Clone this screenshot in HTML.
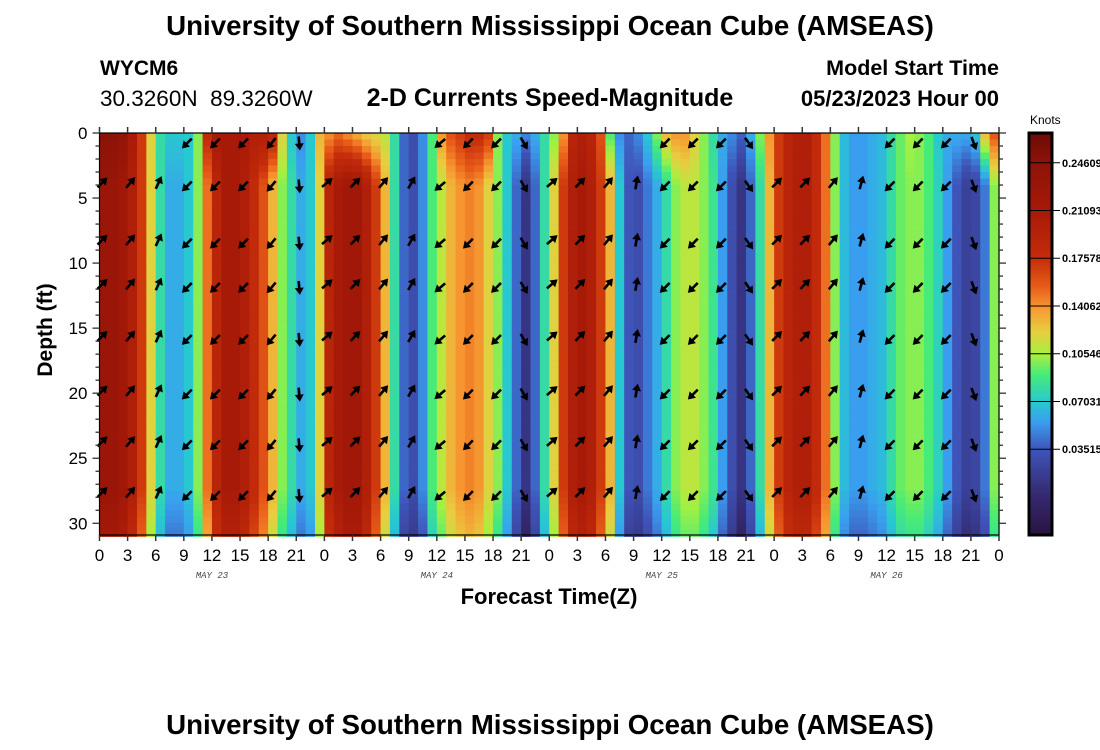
<!DOCTYPE html>
<html><head><meta charset="utf-8">
<style>
body{margin:0;background:#fff;width:1100px;height:750px;overflow:hidden;font-family:"Liberation Sans",Arial,sans-serif}
svg{position:absolute;left:0;top:0}
</style></head>
<body>
<svg id="chart" width="1100" height="750" xmlns="http://www.w3.org/2000/svg">
<text x="550" y="35" text-anchor="middle" font-size="27.7" font-weight="bold">University of Southern Mississippi Ocean Cube (AMSEAS)</text>
<text x="100" y="75" font-size="21" font-weight="bold">WYCM6</text>
<text x="100" y="106" font-size="22.5">30.3260N&#160; 89.3260W</text>
<text x="550" y="106" text-anchor="middle" font-size="25" font-weight="bold">2-D Currents Speed-Magnitude</text>
<text x="999" y="75" text-anchor="end" font-size="21.5" font-weight="bold">Model Start Time</text>
<text x="999" y="106" text-anchor="end" font-size="22" font-weight="bold">05/23/2023 Hour 00</text>
<text transform="translate(52,330) rotate(-90)" text-anchor="middle" font-size="21" font-weight="bold">Depth (ft)</text>
<text x="549" y="604" text-anchor="middle" font-size="22" font-weight="bold">Forecast Time(Z)</text>
<text x="1030" y="124" font-size="12">Knots</text>
<text x="550" y="734" text-anchor="middle" font-size="27.7" font-weight="bold">University of Southern Mississippi Ocean Cube (AMSEAS)</text>
<g id="cells"></g><g id="arrows"></g><g id="axes"></g><g id="cbar"></g>
</svg>
<script>
// hourly speed (knots) at mid depth
const bulk=[0.23,0.23,0.22,0.20,0.17,0.12,0.08,0.06,0.06,0.07,0.10,0.15,0.19,0.21,0.21,0.20,0.18,0.16,0.13,0.10,0.08,0.06,0.07,0.12,
0.19,0.21,0.22,0.22,0.20,0.17,0.13,0.08,0.04,0.03,0.05,0.09,0.11,0.13,0.14,0.145,0.14,0.12,0.10,0.07,0.04,0.01,0.04,0.08,
0.12,0.17,0.20,0.21,0.20,0.17,0.13,0.07,0.035,0.03,0.045,0.06,0.08,0.10,0.11,0.11,0.10,0.085,0.055,0.03,0.01,0.04,0.08,0.13,
0.17,0.19,0.20,0.20,0.18,0.15,0.10,0.065,0.055,0.055,0.06,0.065,0.08,0.095,0.10,0.10,0.09,0.075,0.055,0.035,0.02,0.025,0.045,0.10];
// hourly speed at surface
const surface=[0.25,0.25,0.24,0.21,0.17,0.12,0.08,0.07,0.07,0.07,0.10,0.18,0.21,0.21,0.21,0.21,0.20,0.20,0.19,0.12,0.07,0.05,0.07,0.13,
0.14,0.15,0.14,0.13,0.12,0.115,0.11,0.08,0.04,0.03,0.05,0.09,0.14,0.16,0.17,0.18,0.18,0.17,0.10,0.07,0.06,0.05,0.06,0.08,
0.10,0.14,0.19,0.20,0.19,0.16,0.09,0.05,0.04,0.05,0.07,0.10,0.13,0.14,0.14,0.12,0.10,0.08,0.06,0.05,0.04,0.06,0.10,0.14,
0.17,0.19,0.20,0.20,0.18,0.15,0.10,0.065,0.055,0.055,0.06,0.065,0.08,0.095,0.105,0.10,0.09,0.07,0.06,0.06,0.06,0.07,0.13,0.16];
// arrow directions every 3 hours (degrees, 0=east, counter-clockwise)
const arrowHours=[0,3,6,9,12,15,18,21,24,27,30,33,36,39,42,45,48,51,54,57,60,63,66,69,72,75,78,81,84,87,90,93];
const arrowDir=[45,50,65,225,225,225,230,275,40,45,50,60,220,225,225,300,40,45,50,80,225,225,225,305,45,45,50,75,225,225,225,290];
const arrowDepths=[0.5,3.8,8.2,11.6,15.6,19.8,23.7,27.6];
const yTicks=[0,5,10,15,20,25,30];
const xTickLabels=["0","3","6","9","12","15","18","21"];
const dayLabels=["MAY 23","MAY 24","MAY 25","MAY 26"];
const cbTicks=[0.03515,0.07031,0.10546,0.14062,0.17578,0.21093,0.24609];
const cbMin=-0.028,cbMax=0.268;

const X0=99.5,X1=999,Y0=133,Y1=535,HMAX=96,DMAX=30.9;
const xs=h=>X0+(X1-X0)*h/HMAX;
const ys=d=>Y0+(Y1-Y0)*d/DMAX;
const NS="http://www.w3.org/2000/svg";
function mk(tag,attrs,parent){const e=document.createElementNS(NS,tag);for(const k in attrs)e.setAttribute(k,attrs[k]);parent.appendChild(e);return e;}
const stops=[[-0.028,[42,20,64]],[0.0,[52,40,110]],[0.035,[62,84,184]],[0.055,[58,158,240]],[0.07,[40,200,208]],[0.09,[70,235,120]],[0.105,[168,240,64]],[0.122,[232,205,64]],[0.14,[246,150,48]],[0.155,[232,92,24]],[0.176,[196,44,10]],[0.21,[168,26,8]],[0.246,[142,19,8]],[0.268,[110,11,6]]];
function color(v){v=Math.max(stops[0][0],Math.min(stops[stops.length-1][0],v));
 for(let i=1;i<stops.length;i++){if(v<=stops[i][0]){const a=stops[i-1],b=stops[i],t=(v-a[0])/(b[0]-a[0]);
 const c=a[1].map((x,j)=>Math.round(x+(b[1][j]-x)*t));return `rgb(${c})`;}}return "rgb(110,11,6)";}

const cells=document.getElementById('cells');
const dStep=0.5;
for(let h=0;h<bulk.length;h++){
 for(let d=0;d<DMAX;d+=dStep){
  const w=Math.max(0,1-(d+dStep/2)/4);
  let v=bulk[h]+(surface[h]-bulk[h])*w;
  if(d>27) v-= (d-27)*0.004;
  const r=mk('rect',{x:xs(h),y:ys(d),width:xs(h+1)-xs(h)+0.6,height:ys(d+dStep)-ys(d)+0.6,fill:color(v)},cells);
  
  
 }
}
const arrows=document.getElementById('arrows');
arrowHours.forEach((h,i)=>{
 const a=arrowDir[i]*Math.PI/180;
 const south=Math.sin(a)<0;
 arrowDepths.forEach((d,k)=>{
  if(k===0&&!south)return;
  const cx=xs(h)+3,cy=ys(d)+(south?4:0),L=7;
  const dx=Math.cos(a)*L,dy=-Math.sin(a)*L;
  const g=mk('g',{},arrows);
  
  
  mk('line',{x1:cx-dx,y1:cy-dy,x2:cx+dx*0.4,y2:cy+dy*0.4,stroke:'#000','stroke-width':2.6},g);
  const tx=cx+dx,ty=cy+dy,ux=Math.cos(a),uy=-Math.sin(a),px=-uy,py=ux;
  mk('polygon',{points:`${tx},${ty} ${tx-ux*7+px*4.5},${ty-uy*7+py*4.5} ${tx-ux*7-px*4.5},${ty-uy*7-py*4.5}`,fill:'#000'},g);
 });
});
const axes=document.getElementById('axes');
mk('rect',{x:X0,y:Y0,width:X1-X0,height:Y1-Y0,fill:'none',stroke:'#000','stroke-width':1.2},axes);
for(let d=0;d<=30;d++){
 const L=(d%5===0)?7:4;
 mk('line',{x1:X0-L,y1:ys(d),x2:X0,y2:ys(d),stroke:'#333','stroke-width':1.3},axes);
 mk('line',{x1:X1,y1:ys(d),x2:X1+L,y2:ys(d),stroke:'#333','stroke-width':1.3},axes);
}
yTicks.forEach(d=>{const t=mk('text',{x:X0-12,y:ys(d)+6,'text-anchor':'end','font-size':17},axes);t.textContent=d;
 
 });
for(let h=0;h<=96;h+=3){
 mk('line',{x1:xs(h),y1:Y1,x2:xs(h),y2:Y1+6,stroke:'#333','stroke-width':1.5},axes);
 mk('line',{x1:xs(h),y1:Y0-6,x2:xs(h),y2:Y0,stroke:'#333','stroke-width':1.5},axes);
 const t=mk('text',{x:xs(h),y:561,'text-anchor':'middle','font-size':17},axes);t.textContent=xTickLabels[(h/3)%8];
 
 
}
dayLabels.forEach((s,i)=>{const t=mk('text',{x:xs(i*24+12),y:578,'text-anchor':'middle','font-size':9,'font-style':'italic','font-family':'Liberation Mono,monospace',fill:'#444'},axes);t.textContent=s;
 
 });
const cb=document.getElementById('cbar');
const CX=1029,CW=23;
const cy=v=>Y1-(Y1-Y0)*(v-cbMin)/(cbMax-cbMin);
for(let p=Y0;p<Y1;p+=2){mk('rect',{x:CX,y:p,width:CW,height:2.5,fill:color(cbMin+(cbMax-cbMin)*(Y1-p-1)/(Y1-Y0))},cb);}
mk('rect',{x:CX,y:Y0,width:CW,height:Y1-Y0,fill:'none',stroke:'#000','stroke-width':3},cb);
cbTicks.forEach(v=>{mk('line',{x1:CX,y1:cy(v),x2:CX+CW+8,y2:cy(v),stroke:'#000','stroke-width':1},cb);
 const t=mk('text',{x:CX+CW+10,y:cy(v)+4,'font-size':11,'font-weight':'bold'},cb);t.textContent=v.toFixed(5);
 
 });
</script>
</body></html>
